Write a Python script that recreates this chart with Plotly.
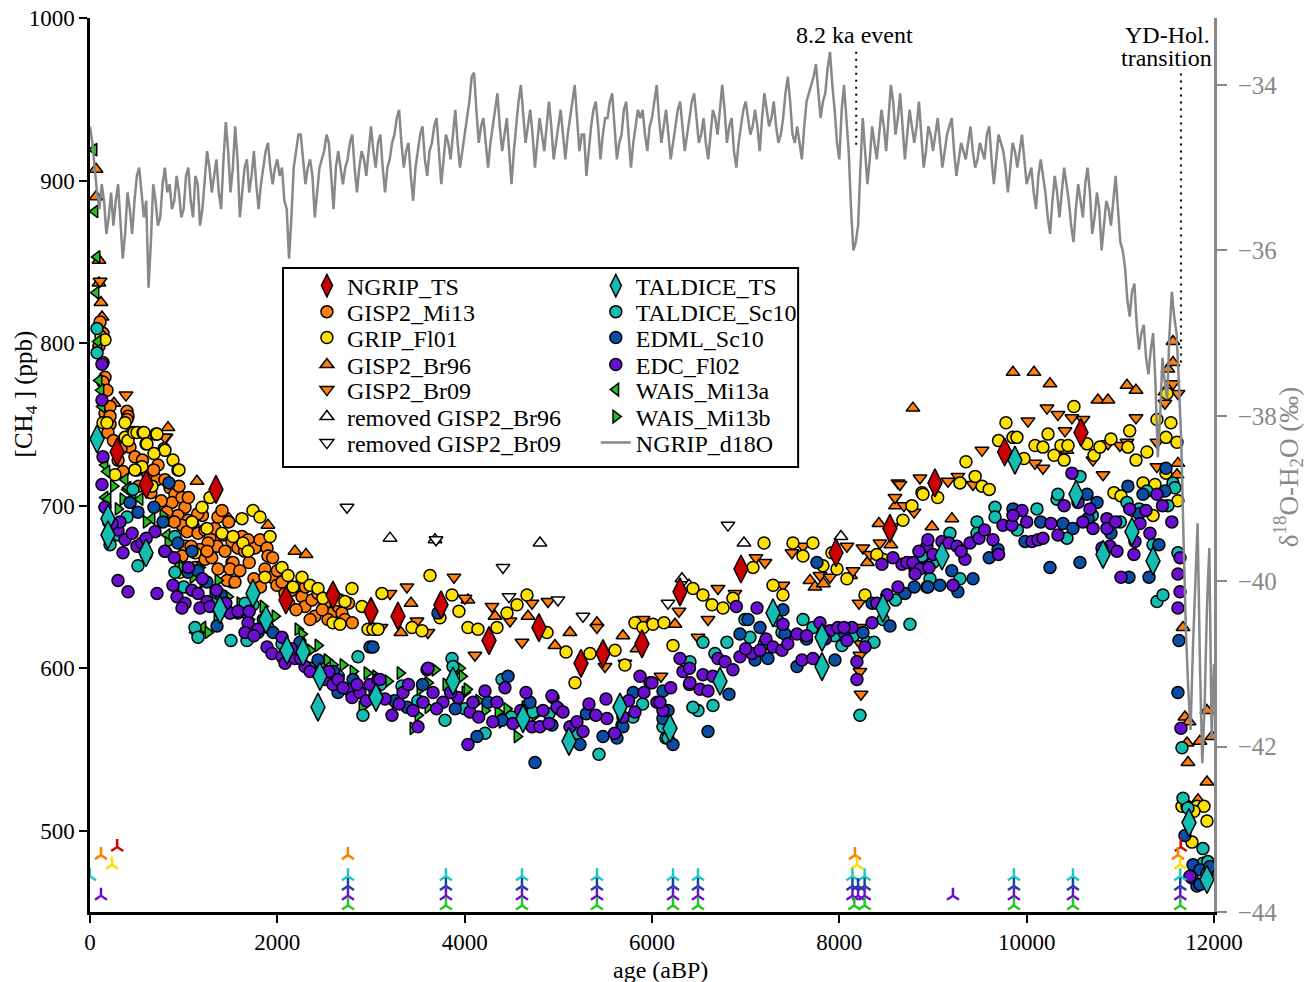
import plotly.graph_objects as go

FONT = "Liberation Serif"

# ---------------- data (ages in years BP, CH4 in ppb) ----------------
NGRIP_TS = [(290, 733), (600, 713), (1345, 710), (2092, 642), (2594, 645), (3000, 635), (3288, 632),
            (3747, 639), (4260, 617), (4793, 625), (5242, 603), (5477, 609), (5893, 615), (6299, 647),
            (6950, 661), (7964, 671), (8540, 686), (9021, 714), (9765, 733), (10580, 745)]

TALDICE_TS = [(75, 741), (192, 692), (192, 682), (598, 671), (1388, 636), (1740, 646), (1879, 630),
              (2103, 611), (2274, 610), (2434, 576), (2455, 595), (3053, 582), (3875, 592), (4623, 569),
              (5114, 555), (5658, 576), (6192, 563), (6726, 592), (7292, 634), (7815, 619), (7815, 601),
              (8466, 637), (9096, 669), (9875, 728), (10527, 707), (10815, 670), (11124, 684), (11349, 666),
              (11733, 505), (11925, 470)]

GISP2_MI13 = [(96, 798), (107, 813), (139, 806), (139, 788), (160, 779), (139, 776), (181, 771), (160, 757),
              (214, 750), (192, 745), (214, 761), (214, 755), (395, 758), (406, 755), (395, 753), (427, 736),
              (480, 730), (352, 721), (502, 722), (619, 719), (715, 716), (726, 725), (854, 711), (907, 707),
              (875, 702), (982, 705), (1014, 699), (939, 694), (1046, 691), (982, 688), (1100, 688), (1036, 684),
              (1153, 683), (1228, 685), (1281, 680), (1366, 693), (1409, 697), (1356, 675), (1441, 672),
              (1516, 678), (1580, 674), (1516, 665), (1623, 681), (1687, 679), (1761, 674), (1815, 679),
              (1890, 674), (1900, 669), (1868, 661), (1943, 656), (1996, 651), (2050, 653), (2082, 646),
              (2156, 648), (2220, 650), (2263, 644), (2295, 638), (2370, 642), (2434, 646), (2509, 640),
              (2584, 634), (2648, 638), (2690, 634), (2669, 642), (2541, 630), (2722, 630), (1516, 653),
              (1260, 677), (1174, 673), (854, 691), (1014, 675), (982, 669), (1121, 662), (1228, 667),
              (1366, 661), (1463, 654), (1527, 665), (1548, 653), (1495, 661), (250, 740), (300, 728),
              (330, 735), (450, 745), (520, 712), (560, 728), (650, 708), (680, 722), (760, 703), (800, 716),
              (820, 696), (900, 690), (950, 712), (1080, 675), (1200, 694), (1300, 668), (1420, 682),
              (1600, 660), (1700, 665), (1750, 655), (1820, 650), (2000, 660), (2120, 640), (2200, 636),
              (2300, 650), (2400, 632), (2480, 636), (2600, 645), (2760, 640), (2800, 628), (1050, 705),
              (1150, 695), (1250, 672), (1330, 686), (1480, 690), (1650, 672), (1950, 668), (2350, 630)]

GRIP_FL01 = [(117, 804), (160, 802), (139, 751), (181, 751), (374, 751), (374, 742), (406, 740), (470, 745),
             (502, 745), (566, 745), (576, 745), (704, 744), (715, 744), (598, 738), (608, 738), (790, 735),
             (800, 734), (683, 732), (886, 728), (939, 722), (950, 722), (555, 724), (480, 722), (267, 719),
             (662, 712), (1281, 705), (1196, 699), (1089, 690), (1249, 686), (1409, 683), (1527, 681),
             (1623, 692), (1740, 697), (1815, 693), (1633, 677), (1922, 681), (1687, 672), (1868, 656),
             (2050, 662), (2114, 657), (2167, 650), (2263, 656), (2349, 651), (2434, 649), (2487, 643),
             (2648, 642), (2722, 641), (2797, 649), (2594, 628), (2669, 627), (2904, 638), (2968, 624),
             (3043, 624), (3117, 646), (1121, 671), (961, 659), (3021, 624), (3075, 624), (3630, 657),
             (3438, 625), (3544, 623), (3865, 645), (3939, 635), (3736, 631), (4035, 625), (4142, 624),
             (4345, 625), (4452, 634), (4559, 639), (4665, 645), (4879, 622), (5082, 610), (5178, 591),
             (5338, 609), (5605, 611), (5711, 602), (5818, 628), (5904, 625), (6010, 627), (6128, 628),
             (6224, 614), (6437, 649), (6544, 645), (6640, 639), (6758, 637), (6864, 643), (7078, 662),
             (7196, 677), (7292, 651), (7398, 645), (7505, 677), (7612, 669), (7718, 677), (7825, 663),
             (7975, 661), (8081, 655), (8274, 645), (8466, 667), (8679, 691), (8775, 700), (8882, 708),
             (7921, 671), (9352, 727), (9288, 714), (9523, 712), (8893, 707), (9779, 751), (9854, 742),
             (9896, 742), (9971, 729), (10089, 737), (10174, 736), (10228, 744), (10292, 731), (10366, 737),
             (10441, 737), (10505, 761), (10644, 738), (10719, 731), (10782, 736), (11081, 736), (11167, 728),
             (11284, 733), (11391, 753), (11540, 751), (11487, 742), (11605, 739), (11487, 720), (11498, 769),
             (10932, 708), (11007, 706), (11242, 714), (11370, 713), (11349, 694), (11615, 703), (9050, 705),
             (9450, 718), (9600, 710), (9700, 740), (10400, 728), (10900, 741), (11100, 746), (8400, 670),
             (11658, 515), (11712, 515), (11818, 515), (11893, 515), (11786, 512), (11925, 506), (11765, 493)]

GISP2_BR96 = [(64, 907), (64, 890), (96, 851), (96, 837), (117, 825), (128, 816), (256, 763), (833, 748),
              (1142, 715), (1484, 692), (1900, 688), (2188, 672), (2306, 670), (3320, 622), (3427, 640),
              (4035, 642), (4324, 632), (4676, 632), (4964, 614), (5124, 622), (5412, 628), (5690, 620),
              (5840, 612), (6245, 627), (7687, 654), (7740, 650), (7830, 652), (8120, 657), (8300, 665),
              (8423, 689), (8550, 676), (8600, 700), (8786, 760), (8989, 687), (9202, 692), (9854, 782),
              (10078, 782), (10249, 775), (10430, 734), (10761, 765), (10868, 765), (11071, 774), (11167, 771),
              (11476, 770), (11508, 784), (11562, 788), (11562, 801), (11605, 719), (11615, 726), (11669, 625),
              (11690, 570), (11733, 567), (11712, 554), (11850, 555), (11978, 558), (11722, 542), (11925, 530),
              (11829, 519), (11925, 574)]

GISP2_BR09 = [(107, 838), (384, 768), (811, 742), (800, 742), (3107, 625), (3203, 646), (3384, 650),
              (3491, 629), (3608, 622), (3886, 656), (4003, 643), (4110, 608), (4292, 638), (4484, 629),
              (4612, 616), (4719, 640), (4890, 641), (5412, 625), (5498, 601), (5711, 603), (5904, 630),
              (6096, 595), (6288, 635), (6491, 619), (6598, 630), (6704, 649), (6886, 646), (7110, 668),
              (7206, 665), (7398, 651), (7494, 671), (7612, 675), (7793, 657), (7900, 656), (8081, 675),
              (8146, 660), (8210, 640), (8215, 625), (8225, 615), (8220, 608), (8220, 598), (8231, 584),
              (8252, 674), (8327, 670), (8434, 677), (8562, 687), (8626, 714), (8797, 696), (8690, 700),
              (8647, 713), (8594, 705), (8861, 717), (9160, 715), (9266, 718), (9427, 713), (9523, 734),
              (10014, 752), (10089, 726), (10174, 723), (10217, 760), (10334, 756), (10409, 746), (10483, 754),
              (10601, 753), (10708, 728), (10815, 719), (10868, 738), (10996, 737), (11071, 739), (11167, 754),
              (11391, 739), (11391, 724), (11476, 763), (11562, 775), (11615, 769)]

REMOVED_BR96 = [(3203, 680), (3683, 679), (4804, 677), (6320, 655), (6395, 651), (6982, 677), (8017, 681)]
REMOVED_BR09 = [(2744, 699), (3694, 679), (4409, 662), (4473, 644), (4996, 642), (5263, 632), (6171, 640),
                (6811, 688)]

EDC_FL02 = [(128, 787), (128, 765), (139, 730), (128, 713), (160, 699), (299, 685), (320, 690), (235, 689),
            (374, 679), (502, 675), (555, 677), (694, 684), (299, 654), (406, 647), (715, 646), (886, 651),
            (929, 644), (1014, 640), (1089, 648), (1153, 646), (1249, 641), (1174, 637), (1281, 638), (982, 637),
            (1495, 634), (1580, 635), (1687, 628), (1655, 622), (1794, 624), (1890, 613), (1943, 609),
            (2050, 607), (2082, 603), (2188, 606), (2295, 601), (2434, 597), (2509, 593), (2594, 590),
            (2648, 593), (2754, 587), (2797, 582), (2882, 585), (2989, 590), (3075, 593), (2050, 619),
            (352, 671), (3096, 593), (3224, 571), (3342, 585), (3448, 574), (3502, 564), (3555, 579),
            (3662, 585), (3598, 599), (3768, 579), (3929, 582), (4035, 553), (4057, 573), (4089, 579),
            (4217, 586), (4345, 579), (4430, 588), (4516, 566), (4655, 585), (4719, 564), (4804, 564),
            (4836, 574), (4943, 582), (4986, 576), (5124, 564), (5199, 567), (5263, 561), (5327, 578),
            (5509, 581), (5519, 569), (5690, 570), (5818, 573), (5872, 595), (5979, 591), (5914, 585),
            (6053, 579), (6117, 574), (4932, 583), (3608, 600), (6000, 591), (6085, 579), (6299, 606),
            (6331, 598), (6405, 591), (6512, 587), (6598, 586), (6544, 596), (6704, 606), (6779, 604),
            (6864, 599), (6939, 607), (7067, 609), (7153, 611), (7217, 618), (7292, 613), (7388, 611),
            (7398, 627), (7548, 621), (7601, 605), (7718, 606), (7793, 628), (7900, 623), (7985, 625),
            (8081, 617), (8135, 625), (8188, 604), (8188, 593), (8274, 613), (8349, 628), (8509, 645),
            (8626, 650), (8455, 664), (8669, 664), (8722, 665), (8808, 661), (8914, 662), (8935, 675),
            (6900, 638), (7121, 637), (8573, 668), (8786, 665), (8861, 661), (8946, 679), (9096, 678),
            (9170, 677), (9256, 675), (9395, 677), (9491, 680), (9640, 679), (8808, 658), (8957, 662),
            (9213, 651), (9341, 667), (9747, 688), (9843, 688), (9950, 697), (9854, 694), (10057, 678),
            (10121, 679), (10174, 680), (10259, 689), (10334, 682), (10483, 720), (10548, 702), (10676, 698),
            (10708, 686), (10857, 692), (10857, 686), (10889, 675), (10964, 672), (11007, 656), (11156, 678),
            (11210, 689), (11274, 697), (11316, 683), (11391, 707), (11637, 668), (11615, 658), (11637, 647),
            (11615, 637), (11647, 563), (10804, 674), (11145, 670), (11743, 472), (450, 683), (600, 680),
            (800, 672), (900, 668), (1050, 662), (1200, 655), (1350, 648), (1450, 640), (1700, 635),
            (1750, 620), (2150, 612), (2250, 606), (2350, 598), (2550, 598), (2700, 588), (2850, 590),
            (2950, 580), (3150, 581), (3300, 578), (3400, 590), (3700, 575), (3850, 585), (4150, 570),
            (4300, 567), (4600, 574), (4900, 566), (5050, 573), (5400, 571), (5600, 560), (5750, 580),
            (6200, 588), (6400, 600), (6650, 595), (7000, 612), (7450, 615), (7650, 620), (7850, 618),
            (8050, 625), (8400, 640), (8850, 672), (9000, 670), (9300, 672), (9550, 685), (9700, 670),
            (10000, 690), (10400, 700), (10600, 690), (10950, 690), (11100, 698), (11450, 700), (11550, 690)]

EDML_SC10 = [(843, 714), (683, 699), (512, 696), (427, 702), (779, 690), (939, 677), (1089, 672), (1046, 659),
             (1249, 653), (1356, 626), (1495, 634), (1580, 634), (1676, 634), (1794, 622), (1954, 622),
             (2242, 616), (2434, 605), (2648, 585), (2808, 593), (2989, 613), (3043, 585), (3021, 613),
             (3715, 634), (4463, 595), (4697, 579), (4932, 565), (4249, 579), (4132, 558), (4751, 542),
             (5231, 553), (5477, 558), (5626, 557), (5690, 564), (6117, 586), (6117, 569), (3384, 576),
             (6171, 574), (6224, 553), (6598, 561), (6822, 584), (6939, 621), (7025, 630), (7153, 625),
             (7238, 606), (7398, 636), (7420, 621), (7548, 601), (7761, 665), (7953, 605), (8252, 622),
             (8541, 626), (8701, 646), (8935, 650), (8509, 645), (8946, 650), (9074, 651), (9266, 647),
             (9427, 655), (9694, 673), (9854, 698), (9982, 678), (10249, 662), (10388, 689), (10494, 686),
             (10569, 665), (10644, 707), (10655, 692), (10751, 702), (11081, 712), (11092, 656), (11306, 656),
             (11412, 676), (11242, 707), (11487, 723), (11476, 709), (11626, 617), (11615, 585), (11690, 497),
             (11776, 479), (11850, 476), (11818, 466), (11765, 471), (11925, 474), (11850, 467), (11957, 478),
             (200, 690), (1150, 660), (1400, 645), (1850, 630), (2100, 610), (2600, 598), (3250, 580),
             (3550, 590), (3900, 575), (4400, 568), (5000, 575), (5300, 572), (5800, 585), (6400, 590),
             (7100, 605), (7650, 618), (8050, 622), (8350, 640), (8800, 650), (9200, 660), (9600, 668),
             (10150, 690), (10900, 683), (11200, 695)]

TALDICE_SC10 = [(75, 809), (75, 794), (459, 710), (395, 693), (214, 676), (512, 663), (800, 672), (907, 681),
                (907, 659), (1121, 625), (1153, 619), (1740, 639), (1676, 617), (1505, 617), (1655, 640),
                (2156, 607), (2263, 609), (2487, 597), (2914, 571), (2861, 607), (3865, 606), (3875, 601),
                (4399, 593), (3790, 568), (4217, 560), (4612, 574), (4729, 573), (5434, 547), (5679, 565),
                (5797, 570), (6149, 557), (3331, 589), (6405, 604), (6544, 616), (6672, 609), (6800, 616),
                (6992, 630), (7046, 619), (7345, 629), (7388, 622), (7612, 630), (7718, 625), (7825, 622),
                (8028, 614), (8220, 571), (8295, 616), (8370, 616), (8466, 630), (8754, 627), (8914, 670),
                (6491, 574), (6437, 576), (6117, 564), (6171, 557), (6651, 577), (8882, 669), (9181, 683),
                (9470, 690), (9470, 683), (8968, 655), (9288, 655), (9662, 699), (9662, 693), (10110, 698),
                (10324, 704), (10334, 707), (10430, 680), (10569, 718), (11071, 702), (11135, 697), (11284, 709),
                (11349, 676), (11391, 641), (11455, 645), (11508, 700), (11562, 714), (11583, 711), (11615, 671),
                (11658, 551), (11669, 520), (11722, 514), (11882, 489), (11882, 480), (11935, 481), (11978, 476),
                (300, 682), (600, 670), (1000, 650), (1300, 640), (1900, 625), (2050, 615), (2350, 600),
                (2650, 595), (3100, 590), (3500, 580), (4000, 575), (4500, 570), (4900, 572), (5200, 560),
                (5900, 578), (7200, 615), (7950, 620), (8150, 620), (8600, 642), (9000, 665), (9900, 685),
                (10700, 694), (11000, 690), (11200, 698)]

WAIS_MI13A = [(43, 919), (53, 881), (75, 853), (64, 831), (85, 801), (96, 796), (96, 777), (117, 771),
              (128, 761), (160, 725), (181, 721), (374, 716), (395, 710), (160, 705), (192, 704), (459, 704),
              (406, 711), (534, 704), (662, 692), (715, 685), (822, 682), (1121, 622), (1206, 625)]

WAIS_MI13B = [(352, 704), (779, 694), (833, 677), (886, 669), (939, 665), (982, 662), (1100, 656), (1174, 662),
              (1206, 653), (1313, 647), (1366, 654), (1473, 644), (1228, 638), (1356, 631), (1153, 621),
              (1260, 622), (1847, 638), (1975, 632), (2220, 624), (2263, 621), (2434, 614), (2530, 605),
              (2594, 602), (2701, 602), (2808, 598), (2957, 597), (2904, 576), (3310, 597), (3181, 592),
              (3256, 579), (3523, 587), (3608, 576), (3448, 563), (3502, 571), (3683, 599), (3950, 600),
              (3971, 595), (4003, 585), (4217, 574), (4356, 573), (4399, 567), (4559, 558), (4751, 571),
              (4644, 576), (3608, 591), (4025, 587), (250, 712), (300, 698), (600, 690), (1600, 640),
              (1700, 630), (2050, 615), (2350, 611), (3050, 595), (3800, 590), (4150, 580), (4450, 575)]

# NGRIP d18O (permil), sampled every 25 years from 0 to 12000 yr BP
D18O_STEP = 25
NGRIP_D18O = [
    -34.5,
    -34.7, -35.0, -35.3, -35.5, -35.2, -35.4, -35.8, -35.6, -35.3, -35.7,
    -35.4, -35.2, -35.6, -36.1, -35.8, -35.3, -35.5, -35.8, -35.4, -35.1,
    -35.0, -35.3, -35.6, -35.4, -36.45, -35.9, -35.2, -35.4, -35.7, -35.6,
    -35.2, -35.0, -35.3, -35.2, -35.5, -35.4, -35.1, -35.3, -35.6, -35.5,
    -35.1, -35.0, -35.4, -35.6, -35.1, -35.2, -35.7, -35.5, -35.1, -34.8,
    -35.0, -35.3, -35.1, -34.9, -35.3, -35.5, -34.9, -34.45, -34.8, -35.3,
    -35.0, -34.5, -34.9, -35.6, -35.3, -35.0, -34.9, -35.3, -35.1, -34.8,
    -35.2, -35.5, -35.2, -35.0, -34.8, -34.7, -35.0, -35.2, -35.0, -34.9,
    -35.1, -35.0, -35.4, -35.5, -36.1, -35.6, -35.0, -34.8, -34.6, -34.6,
    -34.9, -35.2, -35.0, -34.9, -35.1, -35.6, -35.3, -35.0, -34.9, -34.8,
    -34.6, -34.7, -35.1, -35.5, -35.0, -34.8, -35.0, -35.2, -35.0, -34.9,
    -34.7, -34.6, -35.0, -35.3, -35.0, -34.8, -34.9, -35.1, -34.8, -34.5,
    -34.8, -35.0, -34.7, -34.6, -35.0, -35.3, -35.0, -34.9, -34.7, -34.6,
    -34.4, -34.3, -34.7, -35.0, -34.8, -34.7, -35.1, -35.4, -35.0, -34.8,
    -34.6, -34.5, -34.9, -35.1, -34.8, -34.7, -34.5, -34.4, -34.8, -35.2,
    -34.9, -34.6, -34.7, -34.9, -34.6, -34.3, -34.7, -35.0, -34.8, -34.6,
    -34.4, -34.2, -33.9, -33.85, -34.3, -34.7, -34.5, -34.4, -34.7, -35.0,
    -34.7, -34.5, -34.3, -34.1, -34.5, -34.8, -34.6, -34.4, -34.8, -35.2,
    -34.8, -34.5, -34.2, -34.0, -34.4, -34.7, -34.5, -34.3, -34.6, -35.0,
    -34.7, -34.4, -34.6, -34.8, -34.5, -34.2, -34.5, -34.9, -34.7, -34.5,
    -34.3, -34.6, -34.9, -34.6, -34.4, -34.2, -34.0, -34.4, -34.8, -34.6,
    -34.6, -35.1, -34.8, -34.5, -34.3, -34.2, -34.5, -34.9, -34.6, -34.4,
    -34.4, -34.2, -34.1, -34.5, -34.9, -34.7, -34.6, -34.3, -34.2, -34.6,
    -35.0, -34.7, -34.5, -34.3, -34.4, -34.3, -34.6, -34.8, -34.5, -34.4,
    -34.2, -34.0, -34.4, -34.7, -34.5, -34.3, -34.6, -34.9, -34.7, -34.5,
    -34.3, -34.2, -34.5, -34.8, -34.6, -34.4, -34.2, -34.1, -34.4, -34.7,
    -34.6, -34.4, -34.7, -34.9, -34.6, -34.3, -34.4, -34.6, -34.3, -34.0,
    -34.3, -34.7, -34.5, -34.4, -34.8, -35.0, -34.7, -34.5, -34.3, -34.2,
    -34.4, -34.6, -34.5, -34.3, -34.5, -34.8, -34.4, -34.1, -34.3, -34.5,
    -34.4, -34.2, -34.5, -34.7, -34.6, -34.4, -34.1, -33.9, -34.2, -34.6,
    -34.7, -34.5, -34.7, -34.9, -34.5, -34.2, -34.1, -34.0, -33.9, -33.75,
    -34.1, -34.4, -34.2, -34.1, -33.8, -33.6, -34.0, -34.3, -34.7, -34.9,
    -34.3, -34.0, -34.4, -34.8, -35.5, -36.0, -35.9, -35.7, -35.0, -34.4,
    -34.8, -35.2, -34.9, -34.5, -34.7, -34.9, -34.6, -34.3, -34.5, -34.8,
    -34.4, -34.0, -34.2, -34.6, -34.4, -34.1, -34.5, -34.9, -34.6, -34.3,
    -34.5, -34.7, -34.5, -34.2, -34.6, -35.0, -34.8, -34.5, -34.6, -34.8,
    -34.6, -34.4, -34.7, -35.0, -34.8, -34.6, -34.5, -34.4, -34.8, -35.1,
    -34.9, -34.7, -34.8, -34.9, -34.7, -34.5, -34.8, -35.0, -34.9, -34.7,
    -34.8, -34.9, -34.6, -34.5, -34.9, -35.2, -34.9, -34.6, -34.7, -34.8,
    -35.0, -35.3, -35.0, -34.7, -34.8, -35.0, -34.8, -34.6, -34.9, -35.2,
    -35.1, -35.0, -35.3, -35.5, -35.1, -34.9, -35.1, -35.3, -35.6, -35.8,
    -35.4, -35.1, -35.3, -35.6, -35.3, -35.0, -35.2, -35.4, -35.7, -35.9,
    -35.5, -35.2, -35.4, -35.6, -35.2, -35.0, -35.3, -35.8, -35.6, -35.3,
    -35.5, -36.0, -35.7, -35.4, -35.5, -35.7, -35.4, -35.1, -35.5, -35.9,
    -36.0, -36.2, -36.6, -36.8, -36.5, -36.4, -36.9, -37.2, -37.0, -36.9,
    -37.3, -37.5, -37.2, -37.0, -37.6, -38.5, -38.0, -37.3, -37.6, -37.8,
    -37.0, -36.5, -36.8, -37.0, -37.6, -38.3, -39.5, -40.6, -41.3, -41.8,
    -40.8, -40.0, -39.3, -41.0, -42.2, -41.5, -40.3, -39.6, -41.9, -41.0,
]
D18O_AGES = [i * D18O_STEP for i in range(len(NGRIP_D18O))]

# tie-points (ages) per archive, drawn as stacked markers at the bottom
TIE_NGRIP = [290, 11645]
TIE_GISP2 = [117, 2754, 8167, 11615]
TIE_GRIP = [235, 8188, 11640]
TIE_TALDICE = [0, 2754, 3800, 4612, 5412, 6224, 6491, 8140, 8270, 9864, 10494, 11640]
TIE_EDML = [2754, 3800, 4612, 5412, 6224, 6491, 8140, 8200, 8270, 9864, 10494, 11640]
TIE_EDC = [117, 2754, 3800, 4612, 5412, 6224, 6491, 8140, 8200, 8270, 9213, 9864, 10494, 11640]
TIE_WAIS = [2754, 3800, 4612, 5412, 6224, 6491, 8160, 8270, 9864, 10494, 11640]
TIE_LEVELS = [490, 485, 479, 472, 466, 460, 454]  # ppb row of each archive

# events
EVENT_AGES = [8180, 11647]
EVENT_Y0 = [922, 788]
EVENT_Y1 = [982, 967]
EVENT_LABELS = ["8.2 ka event", "YD-Hol.", "transition"]
EVENT_LABEL_X = [8167, 11505, 11490]
EVENT_LABEL_Y = [989.5, 989.5, 975.4]

X_TICKS = [0, 2000, 4000, 6000, 8000, 10000, 12000]
Y_TICKS = [500, 600, 700, 800, 900, 1000]
Y2_TICKS = [-44, -42, -40, -38, -36, -34]

# ---------------- styling ----------------
RED = "#cc0000"
ORANGE = "#ff7f0e"
YELLOW = "#ffe100"
CYAN = "#14bdb2"
BLUE = "#0b4da2"
PURPLE = "#6a0fcf"
GREEN = "#1fc01f"
GRAY = "#888888"

fig = go.Figure()

# legend slots: (column, row)
LEG_X = [0.1930, 0.4500]          # paper x of left / right column legends
LEG_ROW_Y = [0.7002, 0.6711, 0.6421, 0.6119, 0.5839, 0.5537, 0.5246]
legend_layout = {}
slot_counter = [0]


def next_legend(col, row):
    slot_counter[0] += 1
    key = "legend" if slot_counter[0] == 1 else "legend%d" % slot_counter[0]
    legend_layout[key] = dict(x=LEG_X[col], y=LEG_ROW_Y[row], xanchor="left", yanchor="middle",
                              bgcolor="rgba(0,0,0,0)", borderwidth=0,
                              font=dict(family=FONT, size=24, color="black"),
                              tracegroupgap=0, itemsizing="trace")
    return key


def xs(p):
    return [a for a, _ in p]


def ys(p):
    return [b for _, b in p]


def pts(name, data, symbol, size, fill, col, row, lw=1.5):
    fig.add_trace(go.Scatter(
        x=xs(data), y=ys(data), mode="markers", name=name,
        marker=dict(symbol=symbol, size=size, color=fill, line=dict(color="black", width=lw)),
        legend=next_legend(col, row), cliponaxis=True))


pts("GISP2_Br96", GISP2_BR96, "triangle-up", 12, ORANGE, 0, 3)
pts("GISP2_Br09", GISP2_BR09, "triangle-down", 12, ORANGE, 0, 4)
pts("removed GISP2_Br96", REMOVED_BR96, "triangle-up", 12, "white", 0, 5)
pts("removed GISP2_Br09", REMOVED_BR09, "triangle-down", 12, "white", 0, 6)
pts("GISP2_Mi13", GISP2_MI13, "circle", 12, ORANGE, 0, 1)
pts("GRIP_Fl01", GRIP_FL01, "circle", 12, YELLOW, 0, 2)
pts("WAIS_Mi13a", WAIS_MI13A, "triangle-left", 11, GREEN, 1, 4)
pts("WAIS_Mi13b", WAIS_MI13B, "triangle-right", 11, GREEN, 1, 5)
pts("TALDICE_Sc10", TALDICE_SC10, "circle", 12, CYAN, 1, 1)
pts("EDML_Sc10", EDML_SC10, "circle", 12, BLUE, 1, 2)
pts("EDC_Fl02", EDC_FL02, "circle", 12, PURPLE, 1, 3)
pts("NGRIP_TS", NGRIP_TS, "diamond-tall", 20, RED, 0, 0)
pts("TALDICE_TS", TALDICE_TS, "diamond-tall", 20, CYAN, 1, 0)

tie_sets = [(TIE_NGRIP, "#dd0000"), (TIE_GISP2, "#ff7f00"), (TIE_GRIP, "#ffdd00"),
            (TIE_TALDICE, "#1ec8c0"), (TIE_EDML, "#1a40a0"), (TIE_EDC, "#6a0fcf"), (TIE_WAIS, "#22c822")]
for (ages, col), lvl in zip(tie_sets, TIE_LEVELS):
    fig.add_trace(go.Scatter(
        x=ages, y=[lvl] * len(ages), mode="markers", showlegend=False, hoverinfo="skip",
        marker=dict(symbol="y-up", size=10, color=col, line=dict(color=col, width=2.5))))

fig.add_trace(go.Scatter(
    x=D18O_AGES, y=NGRIP_D18O, mode="lines", name="NGRIP_d18O", yaxis="y2",
    line=dict(color=GRAY, width=2.5), legend=next_legend(1, 6)))

shapes = []
for a, y0, y1 in zip(EVENT_AGES, EVENT_Y0, EVENT_Y1):
    shapes.append(dict(type="line", xref="x", yref="y", x0=a, x1=a, y0=y0, y1=y1,
                       line=dict(color="black", width=2, dash="2px,5px")))
# legend frame
shapes.append(dict(type="rect", xref="paper", yref="paper", x0=0.1717, x1=0.630, y0=0.4978, y1=0.7204,
                   line=dict(color="black", width=2), fillcolor="white", layer="below"))

annotations = []
for t, x, y in zip(EVENT_LABELS, EVENT_LABEL_X, EVENT_LABEL_Y):
    annotations.append(dict(text=t, x=x, y=y, xref="x", yref="y", showarrow=False,
                            font=dict(family=FONT, size=24, color="black"), align="center",
                            yanchor="middle"))
# axis titles
annotations.append(dict(text="age (aBP)", x=0.508, y=-0.065, xref="paper", yref="paper",
                        showarrow=False, yanchor="middle", xanchor="center",
                        font=dict(family=FONT, size=24, color="black")))
annotations.append(dict(text="[CH<sub>4</sub> ] (ppb)", x=-0.0578, y=0.579, xref="paper", yref="paper",
                        showarrow=False, textangle=-90, xanchor="center", yanchor="middle",
                        font=dict(family=FONT, size=25, color="black")))
annotations.append(dict(text="\u03b4<sup>18</sup>O-H<sub>2</sub>O (\u2030)", x=1.066, y=0.4978,
                        xref="paper", yref="paper", showarrow=False, textangle=-90,
                        xanchor="center", yanchor="middle",
                        font=dict(family=FONT, size=27, color=GRAY)))

axis_common = dict(showgrid=False, zeroline=False, showline=True, ticks="outside",
                   tickwidth=2, mirror=False, ticklabeloverflow="allow")

fig.update_layout(
    width=1305, height=974, template="none",
    paper_bgcolor="white", plot_bgcolor="white",
    margin=dict(l=82, r=99, t=10, b=70),
    font=dict(family=FONT, size=23, color="black"),
    xaxis=dict(range=[0, 12000], tickvals=X_TICKS, ticktext=[str(v) for v in X_TICKS],
               linecolor="black", linewidth=2.5, tickcolor="black", ticklen=8,
               tickfont=dict(size=23), **axis_common),
    yaxis=dict(range=[450, 1000], tickvals=Y_TICKS, ticktext=[str(v) for v in Y_TICKS],
               linecolor="black", linewidth=2.5, tickcolor="black", ticklen=8,
               tickfont=dict(size=23), **axis_common),
    yaxis2=dict(range=[-44, -33.19], overlaying="y", side="right", tickvals=Y2_TICKS,
                ticktext=["\u2212" + str(abs(v)) for v in Y2_TICKS],
                linecolor=GRAY, linewidth=2.5, tickcolor=GRAY, ticklen=10, ticklabelstandoff=6,
                tickfont=dict(size=25, color=GRAY), **axis_common),
    shapes=shapes, annotations=annotations, showlegend=True,
    **legend_layout,
)

fig.write_html("out.html")
